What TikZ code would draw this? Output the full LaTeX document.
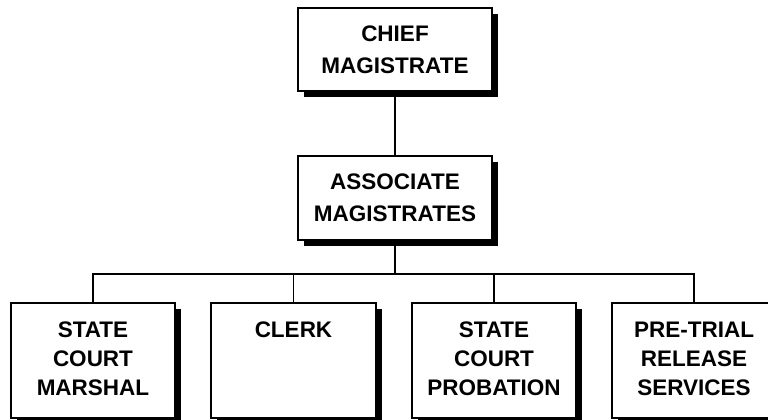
\documentclass[tikz,border=0pt]{standalone}
\usepackage{fontspec}
\setmainfont{Liberation Sans}
\usetikzlibrary{shadows}
\begin{document}
\begin{tikzpicture}[x=1pt,y=-1pt,
  orgbox/.style={draw=black, line width=1.8pt, fill=white, inner sep=0pt,
    drop shadow={shadow xshift=6pt, shadow yshift=-6pt, fill=black, opacity=1},
    font=\bfseries\fontsize{22.5}{32}\selectfont},
  lowbox/.style={orgbox, font=\bfseries\fontsize{22.5}{29}\selectfont},
  link/.style={draw=black, line width=1.9pt}]
  \useasboundingbox (0,0) rectangle (768,420);
  \clip (0,0) rectangle (768,420);

  % upper level
  \node[orgbox] (chief) at (395,49.5)
    {\parbox[c][83pt][c]{194pt}{\centering CHIEF\\MAGISTRATE}};
  \node[orgbox] (assoc) at (395,198)
    {\parbox[c][84pt][c]{194pt}{\centering ASSOCIATE\\MAGISTRATES}};

  % lower level, text set from the top of each box
  \node[lowbox] (marshal) at (93,360.5)
    {\parbox[c][115pt][t]{164pt}{\centering\rule{0pt}{34pt}STATE\\COURT\\MARSHAL}};
  \node[lowbox] (clerk) at (293.5,360.5)
    {\parbox[c][115pt][t]{165pt}{\centering\rule{0pt}{34pt}CLERK}};
  \node[lowbox] (probation) at (494,360.5)
    {\parbox[c][115pt][t]{164pt}{\centering\rule{0pt}{34pt}STATE\\COURT\\PROBATION}};
  \node[lowbox] (pretrial) at (694,360.5)
    {\parbox[c][115pt][t]{164pt}{\centering\rule{0pt}{34pt}PRE-TRIAL\\RELEASE\\SERVICES}};

  \coordinate (bus) at (395,274);

  % connectors
  \draw[link] (chief.south) -- (assoc.north);
  \draw[link] (assoc.south) -- (assoc.south |- bus);
  \draw[link] (marshal.north) -- (marshal.north |- bus) -- (pretrial.north |- bus) -- (pretrial.north);
  \draw[link] (clerk.north) -- (clerk.north |- bus);
  \draw[link] (probation.north) -- (probation.north |- bus);
\end{tikzpicture}
\end{document}
